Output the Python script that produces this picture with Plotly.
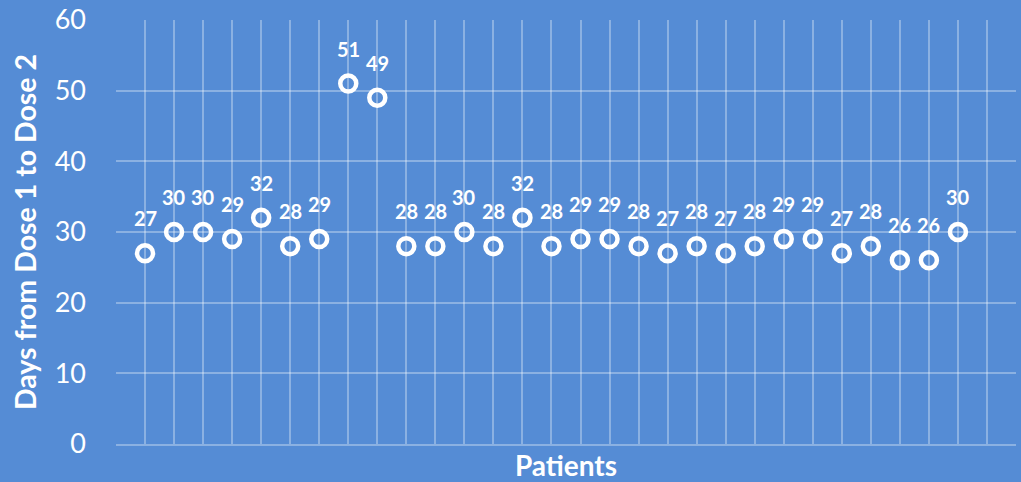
import plotly.graph_objects as go

# Interval between first and second dose for each patient
patients = list(range(1, 30))
days = [27, 30, 30, 29, 32, 28, 29, 51, 49, 28, 28, 30, 28, 32, 28, 29, 29,
        28, 27, 28, 27, 28, 29, 29, 27, 28, 26, 26, 30]
y_ticks = [0, 10, 20, 30, 40, 50, 60]

BG = "#558CD5"
GRID = "rgba(255,255,255,0.32)"
FONT = "Lato, Open Sans, sans-serif"

fig = go.Figure(
    go.Scatter(
        x=patients,
        y=days,
        mode="markers",
        marker=dict(symbol="circle-open", size=16, color="white",
                    line=dict(width=4.5, color="white")),
        cliponaxis=False,
        hoverinfo="x+y",
    )
)

# Value labels sitting above each marker
for p, d in zip(patients, days):
    fig.add_annotation(
        x=p, y=d, text=f"<b>{d}</b>", showarrow=False,
        xanchor="center", yanchor="bottom", yshift=21,
        font=dict(family=FONT, size=20, color="white"),
    )

fig.update_layout(
    width=1021,
    height=482,
    paper_bgcolor=BG,
    plot_bgcolor=BG,
    margin=dict(l=116, r=5, t=20, b=38),
    showlegend=False,
    font=dict(family=FONT, color="white"),
)

fig.update_xaxes(
    range=[0, 31],
    dtick=1,
    tick0=0,
    showticklabels=False,
    showgrid=True,
    gridcolor=GRID,
    gridwidth=1.5,
    zeroline=False,
    showline=True,
    linecolor=GRID,
    linewidth=1.5,
    ticks="",
    automargin=False,
    title=dict(text="<b>Patients</b>", font=dict(family=FONT, size=28, color="white"),
               standoff=18),
)

fig.update_yaxes(
    range=[0, 60],
    tickvals=y_ticks,
    ticktext=[str(t) for t in y_ticks],
    tickfont=dict(family=FONT, size=27, color="white"),
    showgrid=True,
    gridcolor=GRID,
    gridwidth=1.5,
    zeroline=False,
    ticks="",
    ticklabelstandoff=29,
    automargin=False,
    title=dict(text="<b>Days from Dose 1 to Dose 2</b>",
               font=dict(family=FONT, size=28.5, color="white"), standoff=9),
)

fig.write_html("out.html")
